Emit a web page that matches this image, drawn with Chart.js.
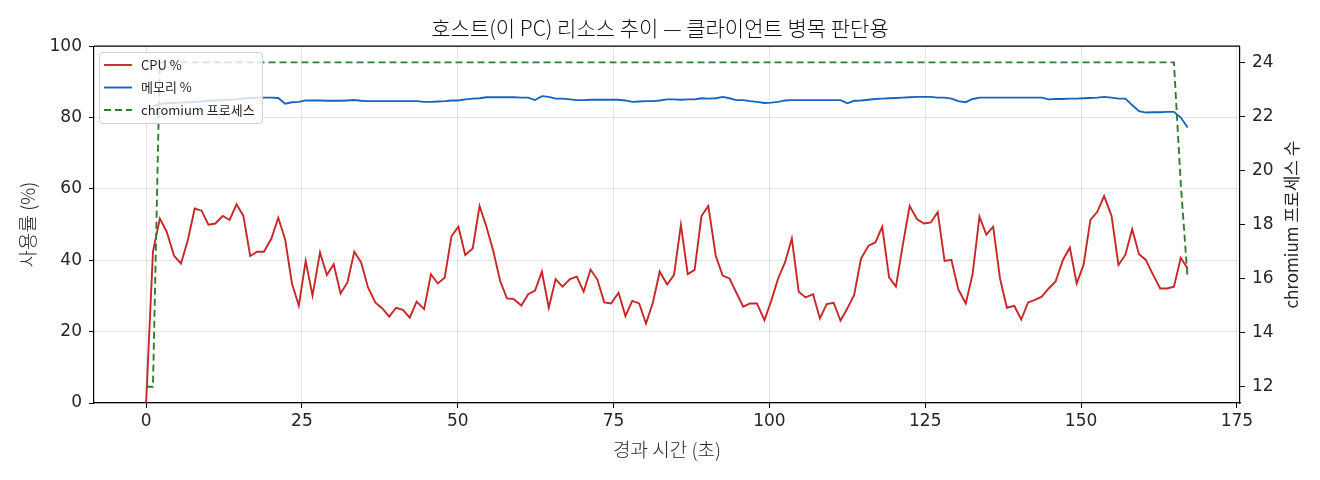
<!DOCTYPE html>
<html>
<head>
<meta charset="utf-8">
<script src="https://cdn.jsdelivr.net/npm/chart.js@4.4.1/dist/chart.umd.min.js"></script>
<style>
  html, body { margin: 0; padding: 0; background: #fff; }
  #wrap { width: 1320px; height: 480px; }
</style>
</head>
<body>
<div id="wrap"><canvas id="chart" width="1320" height="480"></canvas></div>
<script>
// 경과 시간 (초)
const times = [
    0.0, 1.1, 2.2, 3.3, 4.5, 5.6, 6.7, 7.8, 8.9, 10.0,
    11.1, 12.3, 13.4, 14.5, 15.6, 16.7, 17.8, 18.9, 20.1, 21.2,
    22.3, 23.4, 24.5, 25.6, 26.7, 27.9, 29.0, 30.1, 31.2, 32.3,
    33.4, 34.5, 35.6, 36.8, 37.9, 39.0, 40.1, 41.2, 42.3, 43.4,
    44.6, 45.7, 46.8, 47.9, 49.0, 50.1, 51.2, 52.4, 53.5, 54.6,
    55.7, 56.8, 57.9, 59.0, 60.2, 61.3, 62.4, 63.5, 64.6, 65.7,
    66.8, 68.0, 69.1, 70.2, 71.3, 72.4, 73.5, 74.6, 75.8, 76.9,
    78.0, 79.1, 80.2, 81.3, 82.4, 83.6, 84.7, 85.8, 86.9, 88.0,
    89.1, 90.2, 91.4, 92.5, 93.6, 94.7, 95.8, 96.9, 98.0, 99.2,
    100.3, 101.4, 102.5, 103.6, 104.7, 105.8, 107.0, 108.1, 109.2, 110.3,
    111.4, 112.5, 113.6, 114.7, 115.9, 117.0, 118.1, 119.2, 120.3, 121.4,
    122.5, 123.7, 124.8, 125.9, 127.0, 128.1, 129.2, 130.3, 131.5, 132.6,
    133.7, 134.8, 135.9, 137.0, 138.1, 139.3, 140.4, 141.5, 142.6, 143.7,
    144.8, 145.9, 147.1, 148.2, 149.3, 150.4, 151.5, 152.6, 153.7, 154.9,
    156.0, 157.1, 158.2, 159.3, 160.4, 161.5, 162.7, 163.8, 164.9, 166.0,
    167.1
];

// CPU %
const cpuValues = [
    0, 42.4, 51.7, 48.0, 41.2, 39.1, 45.7, 54.5, 53.9, 50.0,
    50.3, 52.4, 51.3, 55.7, 52.5, 41.2, 42.4, 42.4, 46.1, 51.9,
    45.9, 33.5, 27.3, 39.8, 30.1, 42.2, 35.9, 38.9, 30.7, 33.8,
    42.4, 39.4, 32.4, 28.1, 26.5, 24.2, 26.7, 26.1, 23.9, 28.4,
    26.3, 36.1, 33.5, 35.1, 46.8, 49.4, 41.5, 43.3, 55.2, 49.4,
    42.6, 34.2, 29.3, 29.1, 27.3, 30.5, 31.5, 36.8, 26.7, 34.7,
    32.6, 34.7, 35.4, 31.2, 37.4, 34.6, 28.2, 27.9, 30.9, 24.4,
    28.6, 27.9, 22.3, 28.1, 36.8, 33.2, 35.9, 49.9, 36.1, 37.3,
    52.4, 55.2, 41.2, 35.7, 34.9, 30.9, 27.0, 27.9, 27.9, 23.2,
    28.7, 34.9, 39.4, 46.1, 31.2, 29.6, 30.5, 23.7, 27.7, 28.1,
    23.1, 26.5, 30.3, 40.5, 44.1, 45.0, 49.4, 35.2, 32.6, 44.3,
    55.2, 51.5, 50.3, 50.6, 53.5, 39.8, 40.1, 31.9, 27.9, 36.1,
    52.2, 47.2, 49.4, 34.9, 26.7, 27.2, 23.4, 28.2, 28.9, 29.8,
    32.1, 34.0, 40.1, 43.6, 33.5, 38.7, 51.3, 53.6, 58.0, 52.4,
    38.7, 41.5, 48.7, 41.7, 40.1, 36.1, 32.1, 32.1, 32.6, 40.7,
    37.7
];

// 메모리 % (첫 샘플 없음)
const memValues = [
    null, 83.2, 83.8, 84.0, 84.1, 84.2, 84.3, 84.4, 84.5, 84.7,
    84.8, 84.9, 85.0, 85.1, 85.3, 85.5, 85.6, 85.6, 85.6, 85.5,
    83.9, 84.3, 84.4, 84.8, 84.8, 84.8, 84.7, 84.7, 84.7, 84.8,
    84.9, 84.7, 84.6, 84.6, 84.6, 84.6, 84.6, 84.6, 84.6, 84.6,
    84.4, 84.4, 84.5, 84.6, 84.8, 84.8, 85.1, 85.3, 85.4, 85.7,
    85.7, 85.7, 85.7, 85.7, 85.6, 85.6, 84.9, 86.0, 85.8, 85.3,
    85.3, 85.1, 84.9, 84.9, 85.0, 85.0, 85.0, 85.0, 85.0, 84.8,
    84.4, 84.5, 84.6, 84.6, 84.8, 85.1, 85.1, 85.0, 85.1, 85.1,
    85.4, 85.3, 85.4, 85.8, 85.4, 84.9, 84.9, 84.6, 84.4, 84.1,
    84.2, 84.4, 84.8, 84.9, 84.9, 84.9, 84.9, 84.9, 84.9, 84.9,
    84.9, 84.0, 84.7, 84.8, 85.0, 85.2, 85.3, 85.4, 85.5, 85.6,
    85.7, 85.8, 85.8, 85.8, 85.6, 85.6, 85.3, 84.6, 84.3, 85.2,
    85.6, 85.6, 85.6, 85.6, 85.6, 85.6, 85.6, 85.6, 85.6, 85.6,
    85.1, 85.2, 85.2, 85.3, 85.3, 85.4, 85.5, 85.6, 85.8, 85.6,
    85.3, 85.3, 83.5, 81.8, 81.4, 81.5, 81.5, 81.6, 81.6, 80.0,
    77.2
];

// chromium 프로세스 수
const procCounts = [
    12, 12, 24, 24, 24, 24, 24, 24, 24, 24,
    24, 24, 24, 24, 24, 24, 24, 24, 24, 24,
    24, 24, 24, 24, 24, 24, 24, 24, 24, 24,
    24, 24, 24, 24, 24, 24, 24, 24, 24, 24,
    24, 24, 24, 24, 24, 24, 24, 24, 24, 24,
    24, 24, 24, 24, 24, 24, 24, 24, 24, 24,
    24, 24, 24, 24, 24, 24, 24, 24, 24, 24,
    24, 24, 24, 24, 24, 24, 24, 24, 24, 24,
    24, 24, 24, 24, 24, 24, 24, 24, 24, 24,
    24, 24, 24, 24, 24, 24, 24, 24, 24, 24,
    24, 24, 24, 24, 24, 24, 24, 24, 24, 24,
    24, 24, 24, 24, 24, 24, 24, 24, 24, 24,
    24, 24, 24, 24, 24, 24, 24, 24, 24, 24,
    24, 24, 24, 24, 24, 24, 24, 24, 24, 24,
    24, 24, 24, 24, 24, 24, 24, 24, 24, 19.5,
    16
];

const FONT = "'Noto Sans CJK KR', 'Noto Sans', sans-serif";
const TICK_FONT = "'DejaVu Sans', 'Noto Sans', sans-serif";
const TEXT_COLOR = '#262626';
const GRID_COLOR = 'rgba(0,0,0,0.1)';

Chart.defaults.font.family = FONT;
Chart.defaults.color = TEXT_COLOR;

const toPoints = (vals) => times.map((t, i) => ({ x: t, y: vals[i] }));
const tickFont = { family: TICK_FONT, size: 17 };

// 위쪽 테두리 (matplotlib 축 박스)
const frameBox = {
    id: 'frameBox',
    afterDatasetsDraw(chart) {
        const { ctx, chartArea: a } = chart;
        ctx.save();
        ctx.strokeStyle = '#000';
        ctx.lineWidth = 1.2;
        ctx.beginPath();
        ctx.moveTo(a.left, a.top);
        ctx.lineTo(a.right, a.top);
        ctx.stroke();
        ctx.restore();
    }
};

// 오른쪽 축 제목 (아래에서 위로 읽힘)
const rightTitle = {
    id: 'rightTitle',
    afterDraw(chart) {
        const { ctx, chartArea: a } = chart;
        ctx.save();
        ctx.translate(1292, (a.top + a.bottom) / 2);
        ctx.rotate(-Math.PI / 2);
        ctx.font = '17px ' + FONT;
        ctx.fillStyle = TEXT_COLOR;
        ctx.textAlign = 'center';
        ctx.textBaseline = 'middle';
        ctx.fillText('chromium 프로세스 수', 0, 0);
        ctx.restore();
    }
};

// 범례 상자 (왼쪽 위, 반투명)
const boxLegend = {
    id: 'boxLegend',
    afterDraw(chart) {
        const { ctx } = chart;
        const x = 99.5, y = 52.5, w = 163, h = 71;
        ctx.save();
        ctx.beginPath();
        ctx.roundRect(x, y, w, h, 3);
        ctx.fillStyle = 'rgba(255,255,255,0.8)';
        ctx.fill();
        ctx.strokeStyle = '#d0d0d0';
        ctx.lineWidth = 1;
        ctx.stroke();
        ctx.font = '13px ' + FONT;
        ctx.textBaseline = 'middle';
        chart.data.datasets.forEach((ds, i) => {
            const ry = 65 + i * 22.5;
            ctx.beginPath();
            ctx.setLineDash(ds.borderDash || []);
            ctx.strokeStyle = ds.borderColor;
            ctx.lineWidth = ds.borderWidth;
            ctx.moveTo(104, ry);
            ctx.lineTo(132, ry);
            ctx.stroke();
            ctx.setLineDash([]);
            ctx.fillStyle = TEXT_COLOR;
            ctx.fillText(ds.label, 141, ry);
        });
        ctx.restore();
    }
};

new Chart(document.getElementById('chart'), {
    type: 'line',
    data: {
        datasets: [
            {
                label: 'CPU %',
                data: toPoints(cpuValues),
                borderColor: '#c62828',
                borderWidth: 1.9,
                yAxisID: 'y',
                order: 2
            },
            {
                label: '메모리 %',
                data: toPoints(memValues),
                borderColor: '#1565c0',
                borderWidth: 1.9,
                yAxisID: 'y',
                order: 1
            },
            {
                label: 'chromium 프로세스',
                data: toPoints(procCounts),
                borderColor: '#2e7d32',
                borderWidth: 1.9,
                borderDash: [7, 4],
                yAxisID: 'y1',
                order: 0
            }
        ]
    },
    options: {
        responsive: false,
        animation: false,
        devicePixelRatio: 1,
        layout: { padding: 0 },
        elements: {
            point: { radius: 0 },
            line: { tension: 0, fill: false }
        },
        plugins: {
            legend: { display: false },
            tooltip: { enabled: false },
            title: {
                display: true,
                text: '호스트(이 PC) 리소스 추이 — 클라이언트 병목 판단용',
                font: { size: 21, weight: '300' },
                color: '#111',
                padding: { top: 15, bottom: 6 }
            }
        },
        scales: {
            x: {
                type: 'linear',
                min: -8.36,
                max: 175.5,
                ticks: { stepSize: 25, includeBounds: false, padding: 3, font: tickFont },
                grid: { color: GRID_COLOR, tickColor: '#000', tickLength: 5 },
                border: { color: '#000', width: 1.2 },
                title: {
                    display: true,
                    text: '경과 시간 (초)',
                    font: { size: 19, weight: '300' },
                    padding: { top: 0, bottom: 19 }
                },
                afterFit: (s) => { s.height = 77; }
            },
            y: {
                position: 'left',
                min: 0,
                max: 100,
                ticks: { stepSize: 20, padding: 7, font: tickFont },
                grid: { color: GRID_COLOR, tickColor: '#000', tickLength: 5 },
                border: { color: '#000', width: 1.2 },
                title: {
                    display: true,
                    text: '사용률 (%)',
                    font: { size: 19, weight: '300' },
                    padding: { top: 16, bottom: 0 }
                },
                afterFit: (s) => { s.width = 94; }
            },
            y1: {
                position: 'right',
                min: 11.4,
                max: 24.6,
                ticks: { stepSize: 2, includeBounds: false, padding: 7, font: tickFont },
                grid: { drawOnChartArea: false, tickColor: '#000', tickLength: 5 },
                border: { color: '#000', width: 1.2 },
                afterFit: (s) => { s.width = 80; }
            }
        }
    },
    plugins: [frameBox, boxLegend, rightTitle]
});
</script>
</body>
</html>
